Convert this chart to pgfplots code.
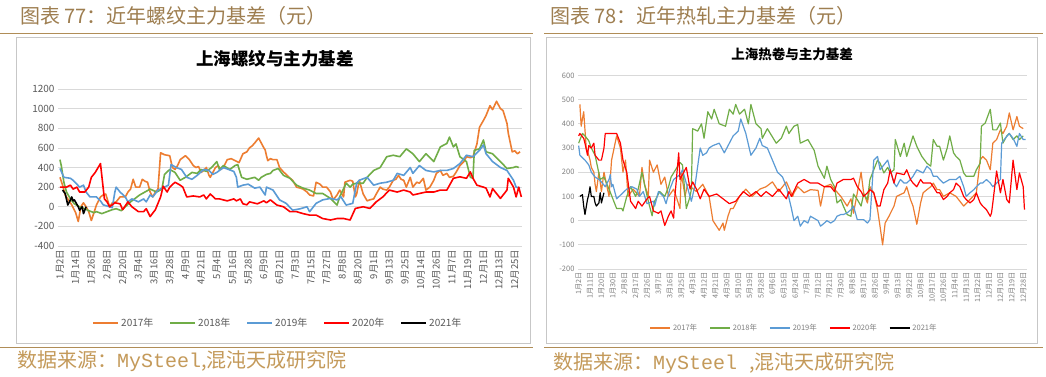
\documentclass[border=0pt]{standalone}
\usepackage{fontspec}
\setmainfont{Noto Sans CJK SC}
\newfontfamily\mono{Liberation Mono}
\usepackage{pgfplots}
\pgfplotsset{compat=1.18}
\definecolor{c17}{HTML}{ED7D31}
\definecolor{c18}{HTML}{70AD47}
\definecolor{c19}{HTML}{5B9BD5}
\definecolor{c20}{HTML}{FF0000}
\definecolor{hdr}{HTML}{9E7E50}
\definecolor{src}{HTML}{C49A5A}
\definecolor{rulec}{HTML}{B08D57}
\definecolor{tickc}{HTML}{595959}
\definecolor{tickr}{HTML}{7F7F7F}
\pgfplotsset{base/.style={
  scale only axis, axis line style={draw=none}, tick style={draw=none},
  ymajorgrids, grid style={draw=black!15,line width=0.7pt},
  /pgf/number format/assume math mode=true, /pgf/number format/1000 sep={},
  xticklabel style={rotate=90,anchor=east},
  no markers,
  every axis plot/.append style={line join=round},
  legend cell align=left,
},
leglongL/.style={legend image code/.code={\draw[##1,line width=1.8pt] (0pt,0pt) -- (25pt,0pt);}},
leglongR/.style={legend image code/.code={\draw[##1,line width=1.7pt] (0pt,0pt) -- (20pt,0pt);}},
}
\newcommand{\lt}[1]{\textcolor{tickc}{#1}}
\newcommand{\lr}[1]{\textcolor{tickr}{#1}}
\begin{document}
\begin{tikzpicture}[x=1pt,y=1pt]
\path[fill=white,use as bounding box] (0,0) rectangle (1046,376);
% headers
\node[anchor=west,text=hdr,font=\fontsize{20}{20}\selectfont,inner sep=0] at (20,360) {图表 77：近年螺纹主力基差（元）};
\node[anchor=west,text=hdr,font=\fontsize{20}{20}\selectfont,inner sep=0] at (550,360) {图表 78：近年热轧主力基差（元）};
\draw[rulec,line width=1pt] (0,343) -- (533,343);
\draw[rulec,line width=1pt] (544,343) -- (1043,343);
\draw[rulec,line width=1pt] (0,29) -- (533,29);
\draw[rulec,line width=1pt] (544,29) -- (1043,29);
\draw[black!22,line width=0.8pt] (16,33) rectangle (530,339);
\draw[black!22,line width=0.8pt] (546,33) rectangle (1037,339);
\node[anchor=west,text=src,font=\fontsize{20}{20}\selectfont,inner sep=0] at (17,14.5) {数据来源：{\mono MySteel},混沌天成研究院};
\node[anchor=west,text=src,font=\fontsize{20}{20}\selectfont,inner sep=0] at (553,13) {数据来源：{\mono MySteel },混沌天成研究院};
\node[font=\fontsize{17.5}{17.5}\selectfont\bfseries] at (275,317) {上海螺纹与主力基差};
\node[font=\fontsize{13.5}{13.5}\selectfont\bfseries] at (792,322) {上海热卷与主力基差};

% ================= LEFT =================
\begin{axis}[base, leglongL, at={(58pt,130pt)}, anchor=south west, width=464pt, height=157pt,
  xmin=-1.5, xmax=353.5, ymin=-400, ymax=1200, ytick={-400,-200,...,1200},
  xtick={0,12,...,348},
  xticklabels={1月2日,1月14日,1月26日,2月8日,2月20日,3月4日,3月16日,3月28日,4月9日,4月21日,5月4日,5月16日,5月28日,6月9日,6月21日,7月3日,7月15日,7月27日,8月8日,8月20日,9月1日,9月13日,9月25日,10月14日,10月26日,11月7日,11月19日,12月1日,12月13日,12月25日},
  tick label style={text=tickc},
  yticklabel style={font=\fontsize{10}{10}\selectfont},
  xticklabel style={font=\fontsize{9.5}{10}\selectfont},
  every axis plot/.append style={line width=1.6pt},
  legend style={at={(0.474,-0.49)},anchor=center,draw=none,fill=none,legend columns=5,
    font=\fontsize{10}{10}\selectfont,
    /tikz/every even column/.append style={column sep=14pt}},
]
\addplot[c17] coordinates {(0,300)(2,220)(4,120)(6,80)(9,20)(12,-60)(14,-150)(16,0)(18,40)(20,0)(22,-50)(24,-140)(26,-60)(28,20)(31,100)(33,120)(35,130)(38,0)(40,40)(43,50)(46,100)(50,100)(52,150)(54,180)(56,280)(58,200)(61,200)(63,280)(65,260)(67,250)(69,150)(71,100)(73,150)(75,180)(77,550)(80,530)(84,520)(86,400)(88,380)(90,420)(92,480)(94,500)(96,520)(99,480)(102,420)(104,400)(106,410)(108,350)(110,370)(112,400)(114,320)(115,300)(117,350)(119,400)(121,420)(123,380)(125,400)(128,480)(131,490)(134,470)(137,450)(140,540)(143,560)(145,600)(147,620)(149,650)(152,700)(154,650)(156,600)(157,580)(158,520)(159,470)(161,490)(163,480)(166,480)(168,400)(171,355)(173,330)(176,290)(178,270)(181,200)(184,190)(186,180)(189,150)(191,120)(194,110)(196,250)(199,230)(201,200)(204,200)(207,150)(209,70)(212,120)(214,170)(217,100)(218,250)(220,260)(222,270)(224,260)(226,100)(227,130)(229,270)(232,130)(235,60)(237,70)(240,80)(242,130)(245,200)(247,180)(250,170)(252,200)(255,270)(257,280)(259,320)(261,280)(263,270)(265,200)(268,300)(270,200)(273,250)(275,240)(278,290)(280,170)(283,200)(286,270)(288,340)(291,370)(293,320)(296,340)(298,300)(301,310)(303,350)(306,420)(309,460)(311,510)(314,500)(316,510)(319,640)(321,810)(324,880)(326,930)(329,1030)(331,990)(334,1075)(337,1000)(339,980)(342,850)(343,750)(346,560)(348,570)(350,540)(352,560)};
\addlegendentry{\lt{2017年}}
\addplot[c18] coordinates {(0,480)(1,420)(3,250)(5,150)(8,80)(11,30)(15,0)(19,-20)(22,-40)(26,-60)(28,-50)(32,-70)(36,-50)(40,-30)(43,-20)(47,-40)(50,0)(54,50)(57,80)(61,120)(65,150)(69,180)(74,150)(78,180)(80,330)(84,380)(88,350)(92,270)(96,300)(101,350)(105,340)(108,380)(112,360)(116,400)(120,460)(122,380)(125,420)(130,380)(134,420)(136,430)(139,300)(143,280)(149,300)(152,270)(154,300)(158,330)(161,340)(163,370)(167,390)(171,320)(176,290)(181,220)(186,190)(191,170)(196,135)(201,135)(207,85)(212,17)(214,100)(219,240)(222,200)(224,230)(227,240)(232,240)(235,300)(240,370)(245,400)(250,510)(255,525)(260,510)(265,590)(270,540)(275,460)(280,540)(286,460)(291,610)(296,645)(298,710)(301,610)(303,640)(306,510)(311,460)(314,300)(316,290)(317,575)(321,590)(324,680)(326,560)(331,540)(337,460)(342,390)(347,400)(349,410)(351,400)};
\addlegendentry{\lt{2018年}}
\addplot[c19] coordinates {(0,390)(3,300)(8,290)(10,270)(13,230)(15,200)(18,220)(20,150)(23,100)(28,100)(31,60)(33,20)(38,0)(40,-10)(42,150)(43,200)(46,150)(50,100)(52,50)(55,80)(60,50)(64,80)(66,50)(69,120)(71,100)(75,170)(80,200)(83,220)(85,430)(89,400)(93,380)(97,300)(101,280)(105,320)(110,380)(114,370)(117,330)(120,350)(125,400)(129,380)(133,360)(135,300)(136,200)(140,220)(144,230)(149,190)(153,200)(157,120)(158,200)(163,170)(168,70)(173,35)(178,-35)(184,-20)(189,0)(191,-50)(196,35)(201,70)(207,85)(212,70)(215,100)(219,17)(224,35)(227,240)(229,270)(235,300)(240,220)(245,240)(250,250)(255,270)(258,340)(263,320)(268,400)(270,340)(275,420)(280,370)(286,355)(291,370)(296,370)(301,390)(306,440)(311,525)(316,510)(321,575)(324,630)(326,540)(331,460)(337,400)(342,370)(347,270)(349,200)(352,190)};
\addlegendentry{\lt{2019年}}
\addplot[c20] coordinates {(0,200)(5,200)(8,220)(10,180)(13,200)(15,150)(19,150)(22,200)(24,300)(27,350)(31,440)(34,80)(36,50)(38,0)(42,40)(46,30)(48,-30)(52,50)(55,0)(60,-50)(64,-50)(66,-20)(69,-100)(73,-30)(77,100)(79,210)(82,150)(84,200)(88,250)(92,220)(94,200)(97,100)(102,110)(107,100)(110,120)(112,80)(115,130)(119,80)(122,80)(128,60)(133,80)(135,60)(138,80)(140,30)(143,20)(145,50)(151,30)(156,60)(158,40)(161,70)(166,17)(171,0)(176,-50)(181,-50)(186,-70)(191,-85)(196,-85)(201,-120)(207,-135)(212,-120)(217,-120)(222,-135)(226,-17)(232,0)(237,-17)(242,50)(247,100)(252,170)(258,150)(263,170)(268,150)(270,120)(275,135)(280,150)(286,150)(291,170)(296,170)(301,290)(306,305)(311,290)(314,355)(316,290)(319,220)(324,200)(326,190)(329,100)(331,185)(337,85)(342,170)(343,290)(347,200)(349,100)(351,200)(353,100)};
\addlegendentry{\lt{2020年}}
\addplot[black] coordinates {(2,170)(4,135)(6,17)(8,70)(9,100)(10,60)(11,70)(14,0)(15,-35)(17,0)(18,-70)(19,-35)(20,0)};
\addlegendentry{\lt{2021年}}
\end{axis}

% ================= RIGHT =================
\begin{axis}[base, leglongR, at={(578pt,107pt)}, anchor=south west, width=449pt, height=193.6pt,
  xmin=-0.5, xmax=354, ymin=-200, ymax=600, ytick={-200,-100,...,600},
  xtick={0,9,...,351},
  xticklabels={1月2日,1月11日,1月20日,1月30日,2月8日,2月17日,2月26日,3月7日,3月16日,3月25日,4月3日,4月12日,4月21日,4月30日,5月10日,5月19日,5月28日,6月6日,6月15日,6月24日,7月3日,7月12日,7月21日,7月30日,8月8日,8月17日,8月26日,9月4日,9月13日,9月22日,10月8日,10月17日,10月26日,11月4日,11月13日,11月22日,12月1日,12月10日,12月19日,12月28日},
  tick label style={text=tickr},
  yticklabel style={font=\fontsize{7.5}{8}\selectfont},
  xticklabel style={font=\fontsize{7.2}{8}\selectfont},
  every axis plot/.append style={line width=1.2pt},
  legend style={at={(0.481,-0.303)},anchor=center,draw=none,fill=none,legend columns=5,
    font=\fontsize{7.5}{8}\selectfont,
    /tikz/every even column/.append style={column sep=10pt}},
]
\addplot[c17] coordinates {(1,480)(2,390)(4,450)(6,300)(8,270)(9,250)(10,220)(12,200)(13,150)(14,120)(16,200)(18,120)(20,200)(24,100)(26,250)(30,350)(33,300)(35,200)(37,250)(39,100)(43,130)(48,100)(50,220)(52,150)(55,100)(56,250)(59,200)(62,230)(65,150)(68,180)(71,100)(75,130)(77,100)(80,50)(81,200)(84,100)(86,150)(93,120)(98,150)(103,100)(106,0)(111,-40)(114,-10)(115,-40)(118,20)(120,50)(122,50)(127,100)(132,130)(137,100)(143,130)(148,140)(153,160)(158,120)(164,160)(169,100)(170,115)(173,140)(178,115)(183,128)(189,125)(191,60)(194,140)(199,150)(202,130)(207,100)(212,60)(215,90)(217,30)(220,115)(223,200)(225,115)(228,73)(230,140)(233,115)(236,45)(238,-25)(240,-100)(242,-10)(245,18)(249,60)(251,100)(257,115)(259,140)(262,87)(264,60)(267,-15)(270,73)(272,115)(275,128)(278,140)(280,155)(283,128)(285,128)(288,100)(293,115)(298,100)(304,60)(309,87)(314,115)(317,250)(319,265)(322,250)(325,210)(327,320)(330,335)(333,375)(335,360)(338,390)(340,445)(343,375)(346,430)(348,390)(351,380)};
\addlegendentry{\lr{2017年}}
\addplot[c18] coordinates {(0,320)(3,360)(5,350)(8,330)(10,300)(13,270)(17,170)(20,180)(24,130)(30,50)(34,50)(35,40)(38,100)(41,140)(45,100)(47,130)(50,200)(52,150)(55,80)(58,20)(60,80)(64,120)(68,100)(71,140)(73,180)(80,240)(82,230)(85,50)(88,100)(89,130)(90,380)(94,370)(97,400)(99,340)(102,450)(105,420)(107,460)(111,400)(116,390)(119,460)(122,440)(124,480)(127,440)(131,460)(134,400)(136,480)(140,400)(144,380)(145,340)(149,380)(156,320)(160,340)(164,390)(166,360)(168,375)(170,390)(173,397)(175,320)(181,335)(186,290)(189,225)(194,175)(196,225)(199,170)(202,140)(204,73)(207,87)(209,60)(212,25)(215,18)(217,110)(220,87)(223,60)(225,110)(228,87)(230,170)(233,210)(236,250)(238,237)(241,197)(244,220)(246,197)(249,210)(250,335)(254,265)(257,320)(259,265)(264,350)(267,307)(271,265)(275,237)(278,225)(280,335)(283,307)(285,307)(288,250)(291,300)(293,350)(296,280)(298,265)(301,250)(304,197)(306,183)(312,183)(314,210)(317,237)(318,390)(321,403)(325,460)(327,375)(330,375)(333,403)(335,320)(338,350)(340,360)(343,335)(346,350)(348,335)(351,350)};
\addlegendentry{\lr{2018年}}
\addplot[c19] coordinates {(0,310)(1,270)(5,250)(8,230)(10,200)(13,180)(16,170)(18,160)(21,140)(24,170)(25,190)(26,140)(27,150)(30,90)(34,110)(38,130)(42,140)(46,130)(48,100)(51,120)(54,70)(59,80)(60,60)(63,120)(67,100)(69,70)(72,130)(75,170)(80,190)(82,210)(89,80)(92,150)(96,300)(98,270)(101,280)(103,300)(106,310)(111,320)(115,280)(119,320)(122,350)(126,370)(128,420)(132,360)(136,270)(140,300)(143,340)(145,310)(149,300)(153,250)(157,200)(161,180)(164,140)(168,50)(170,0)(173,18)(175,-23)(178,0)(181,-10)(183,18)(189,0)(191,-23)(194,-10)(196,0)(199,-10)(202,0)(204,18)(207,25)(209,25)(212,32)(215,45)(217,60)(220,4)(223,4)(225,4)(228,-10)(230,4)(233,250)(236,265)(238,210)(241,230)(244,250)(246,210)(249,155)(251,140)(254,170)(257,155)(259,155)(262,170)(264,183)(267,210)(272,197)(275,225)(278,210)(280,183)(283,183)(285,170)(288,155)(293,170)(298,170)(301,183)(304,140)(306,100)(309,115)(312,128)(314,140)(317,155)(319,155)(322,170)(325,155)(327,140)(330,155)(333,170)(334,320)(336,335)(340,360)(343,340)(346,307)(348,360)(351,335)(353,335)};
\addlegendentry{\lr{2019年}}
\addplot[c20] coordinates {(0,350)(1,360)(4,340)(5,320)(7,270)(8,310)(10,300)(12,320)(13,270)(16,250)(18,250)(20,300)(21,360)(30,360)(33,320)(35,250)(38,200)(41,80)(45,50)(47,80)(50,60)(54,90)(56,100)(59,40)(63,30)(65,40)(68,-20)(71,20)(73,40)(75,10)(76,100)(79,280)(80,170)(82,190)(85,220)(88,130)(90,160)(93,130)(96,90)(99,130)(103,100)(109,110)(114,90)(119,70)(124,80)(130,120)(135,100)(140,120)(144,100)(148,120)(153,100)(158,130)(164,90)(166,120)(168,100)(173,155)(178,170)(183,155)(189,155)(194,140)(199,140)(202,120)(204,155)(209,170)(215,170)(217,175)(220,140)(223,120)(225,100)(228,115)(230,128)(233,115)(236,60)(238,60)(241,128)(244,155)(246,210)(249,155)(251,197)(257,190)(259,210)(262,170)(264,155)(267,140)(270,170)(272,155)(275,155)(278,155)(280,140)(283,115)(285,115)(288,87)(291,100)(293,115)(296,128)(298,155)(301,140)(304,100)(306,87)(309,73)(312,87)(314,115)(317,73)(319,60)(322,45)(325,18)(326,32)(327,73)(330,205)(333,115)(335,170)(338,87)(340,73)(343,250)(346,128)(348,197)(351,140)(352,45)};
\addlegendentry{\lr{2020年}}
\addplot[black] coordinates {(1,100)(3,107)(4,60)(5,25)(7,87)(8,107)(9,140)(10,100)(12,100)(13,73)(14,60)(16,73)(17,115)(18,73)(20,115)};
\addlegendentry{\lr{2021年}}
\end{axis}
\end{tikzpicture}
\end{document}
